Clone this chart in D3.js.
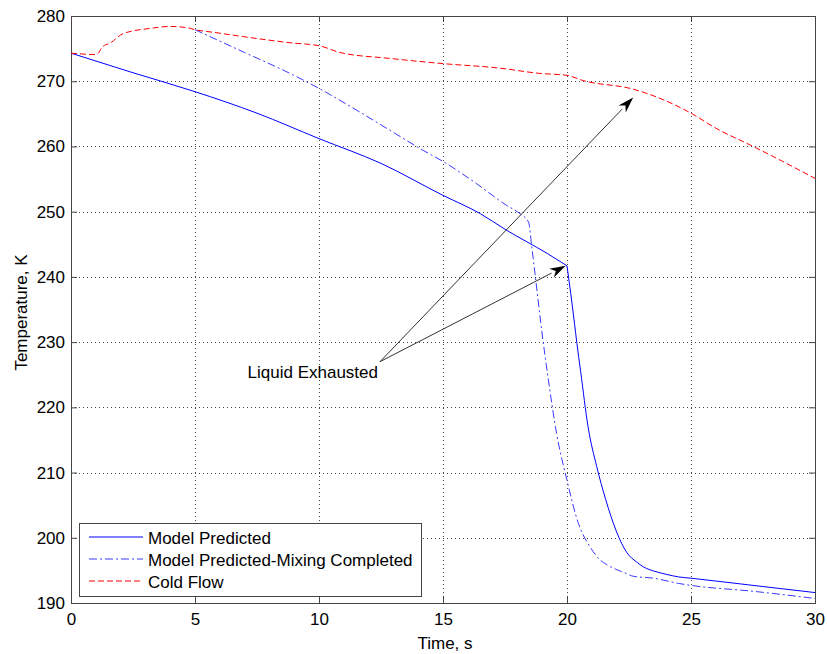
<!DOCTYPE html>
<html>
<head>
<meta charset="utf-8">
<script src="https://cdn.jsdelivr.net/npm/d3@7"></script>
<style>
  body { margin: 0; background: #fff; }
  text { font-family: "Liberation Sans", Arial, sans-serif; fill: #000; }
</style>
</head>
<body>
<svg id="chart" width="827" height="654"></svg>
<script>
// model predicted (solid)
const timeModel = [0, 2.5, 5, 7.5, 10, 12.5, 15, 16.5, 17.5, 19.2, 20, 20.2, 20.4, 20.55, 20.85, 21.2, 21.55, 22, 22.4, 22.8, 23.1, 23.5, 24, 24.5, 25, 27.5, 30];
const tempModel = [274.3, 271.3, 268.4, 265.1, 261.2, 257.4, 252.5, 249.7, 247.3, 243.6, 241.7, 236, 229.8, 225.5, 217, 210.9, 206, 200.9, 197.8, 196.3, 195.5, 194.9, 194.4, 194.0, 193.8, 192.7, 191.6];

// model predicted - mixing completed (dash-dot)
const timeMix = [5, 7, 8.83, 10, 11.5, 12.85, 14.2, 15, 16.35, 17.55, 18.1, 18.45, 18.58, 18.71, 18.98, 19.25, 19.58, 20, 20.46, 20.93, 21.33, 21.6, 22.4, 22.67, 23.5, 24.5, 25, 27.5, 30];
const tempMix = [277.9, 274.4, 271.2, 268.9, 265.6, 262.5, 259.4, 257.7, 254.3, 251.0, 249.7, 248.4, 244.6, 240.5, 231.8, 224.2, 216.0, 208.8, 202.2, 198.6, 196.6, 195.9, 194.5, 194.1, 193.8, 193.0, 192.7, 191.8, 190.7];

// cold flow (dashed)
const timeCold = [0, 1.0, 1.1, 1.25, 1.6, 2.1, 3.2, 4.0, 4.7, 5, 5.75, 7.2, 8.83, 10.05, 10.85, 12.85, 15, 17.3, 18.9, 20, 20.65, 22.65, 23.6, 25, 26, 27.4, 28.7, 30];
const tempCold = [274.3, 274.1, 274.3, 275.2, 275.9, 277.3, 278.1, 278.4, 278.2, 277.9, 277.5, 276.7, 275.9, 275.4, 274.4, 273.5, 272.7, 272.0, 271.2, 270.9, 270.1, 268.8, 267.6, 265.1, 262.8, 260.2, 257.7, 255.1];

const xTicks = [0, 5, 10, 15, 20, 25, 30];
const yTicks = [190, 200, 210, 220, 230, 240, 250, 260, 270, 280];
const legendLabels = ['Model Predicted', 'Model Predicted-Mixing Completed', 'Cold Flow'];

// annotation: tail point and two arrow tips (data coords)
const noteText = 'Liquid Exhausted';
const noteTail = [12.46, 227.0];
const noteTips = [[19.95, 241.7], [22.67, 267.5]];

const FS = '17px';
const svg = d3.select('#chart');
const pLeft = 71, pRight = 815, pTop = 16, pBottom = 603;

const x = d3.scaleLinear().domain([0, 30]).range([pLeft, pRight]);
const y = d3.scaleLinear().domain([190, 280]).range([pBottom, pTop]);

// grid
const grid = svg.append('g');
grid.selectAll('.gx')
  .data(xTicks.slice(1, -1))
  .enter()
  .append('line')
  .attr('x1', (d) => Math.round(x(d)) + 0.5).attr('x2', (d) => Math.round(x(d)) + 0.5)
  .attr('y1', pTop).attr('y2', pBottom)
  .style('stroke', '#444').style('stroke-dasharray', '1,3');
grid.selectAll('.gy')
  .data(yTicks.slice(1, -1))
  .enter()
  .append('line')
  .attr('y1', (d) => Math.round(y(d)) + 0.5).attr('y2', (d) => Math.round(y(d)) + 0.5)
  .attr('x1', pLeft).attr('x2', pRight)
  .style('stroke', '#444').style('stroke-dasharray', '1,3');

// axes (inward ticks on all four sides)
const tickFmt = d3.format('d');
const axB = svg.append('g').attr('transform', `translate(0,${pBottom})`)
  .call(d3.axisBottom(x).tickValues(xTicks).tickSize(-6).tickPadding(10).tickFormat(tickFmt));
const axT = svg.append('g').attr('transform', `translate(0,${pTop})`)
  .call(d3.axisTop(x).tickValues(xTicks).tickSize(-6).tickFormat(''));
const axL = svg.append('g').attr('transform', `translate(${pLeft},0)`)
  .call(d3.axisLeft(y).tickValues(yTicks).tickSize(-6).tickPadding(6).tickFormat(tickFmt));
const axR = svg.append('g').attr('transform', `translate(${pRight},0)`)
  .call(d3.axisRight(y).tickValues(yTicks).tickSize(-6).tickFormat(''));

[axB, axT, axL, axR].forEach((a) => {
  a.select('.domain').style('stroke', '#444');
  a.selectAll('.tick line').style('stroke', '#444');
  a.selectAll('.tick text')
    .style('font-family', '"Liberation Sans", Arial, sans-serif')
    .style('font-size', FS).style('fill', '#000');
});

// series
const line = d3.line().x((d) => x(d[0])).y((d) => y(d[1])).curve(d3.curveMonotoneX);
const zip = (a, b) => a.map((v, i) => [v, b[i]]);

// solid line has a sharp corner where the liquid runs out: draw as two smooth pieces
const model = zip(timeModel, tempModel);
const cut = timeModel.indexOf(20);
[model.slice(0, cut + 1), model.slice(cut)].forEach((part) => {
  svg.append('path')
    .datum(part)
    .attr('d', line)
    .attr('fill', 'none').attr('stroke', '#0000ff').attr('stroke-width', 1);
});

svg.append('path')
  .datum(zip(timeMix, tempMix))
  .attr('d', line)
  .attr('fill', 'none').attr('stroke', '#3a3aff').attr('stroke-width', 1)
  .attr('stroke-dasharray', '8,3,2,3');

svg.append('path')
  .datum(zip(timeCold, tempCold))
  .attr('d', line)
  .attr('fill', 'none').attr('stroke', '#ff0000').attr('stroke-width', 1)
  .attr('stroke-dasharray', '6,3');

// annotation arrows
const tx = x(noteTail[0]), ty = y(noteTail[1]);
noteTips.forEach((tip) => {
  const px = x(tip[0]), py = y(tip[1]);
  const ang = Math.atan2(py - ty, px - tx);
  const len = 16, half = 5;
  const bx = px - len * Math.cos(ang), by = py - len * Math.sin(ang);
  svg.append('line')
    .attr('x1', tx).attr('y1', ty).attr('x2', bx).attr('y2', by)
    .attr('stroke', '#333').attr('stroke-width', 1);
  const pts = [
    [px, py],
    [bx + half * Math.sin(ang), by - half * Math.cos(ang)],
    [px - len * 0.7 * Math.cos(ang), py - len * 0.7 * Math.sin(ang)],
    [bx - half * Math.sin(ang), by + half * Math.cos(ang)],
  ];
  svg.append('polygon')
    .attr('points', pts.map((p) => p.join(',')).join(' '))
    .attr('fill', '#000');
});

svg.append('text')
  .attr('x', tx - 2).attr('y', ty + 16)
  .attr('text-anchor', 'end')
  .style('font-size', FS)
  .text(noteText);

// axis labels
svg.append('text')
  .attr('x', (pLeft + pRight) / 2 + 2).attr('y', 649)
  .attr('text-anchor', 'middle')
  .style('font-size', FS)
  .text('Time, s');
svg.append('text')
  .attr('transform', `translate(27,${(pTop + pBottom) / 2 + 3}) rotate(-90)`)
  .attr('text-anchor', 'middle')
  .style('font-size', FS)
  .text('Temperature, K');

// legend
const lg = svg.append('g');
lg.append('rect')
  .attr('x', 79.5).attr('y', 523.5).attr('width', 342).attr('height', 73)
  .attr('fill', '#fff').attr('stroke', '#444');
const legendDash = ['none', '8,3,2,3', '6,3'];
const legendColor = ['#0000ff', '#3a3aff', '#ff0000'];
legendLabels.forEach((lab, i) => {
  const yy = 537 + i * 22;
  lg.append('path')
    .attr('d', d3.line()([[89, yy], [143, yy]]))
    .attr('fill', 'none')
    .style('stroke', legendColor[i]).style('stroke-width', '1.2px')
    .style('stroke-dasharray', legendDash[i]);
  lg.append('text')
    .attr('x', 148).attr('y', yy + 7)
    .style('font-size', FS)
    .text(lab);
});
</script>
</body>
</html>
